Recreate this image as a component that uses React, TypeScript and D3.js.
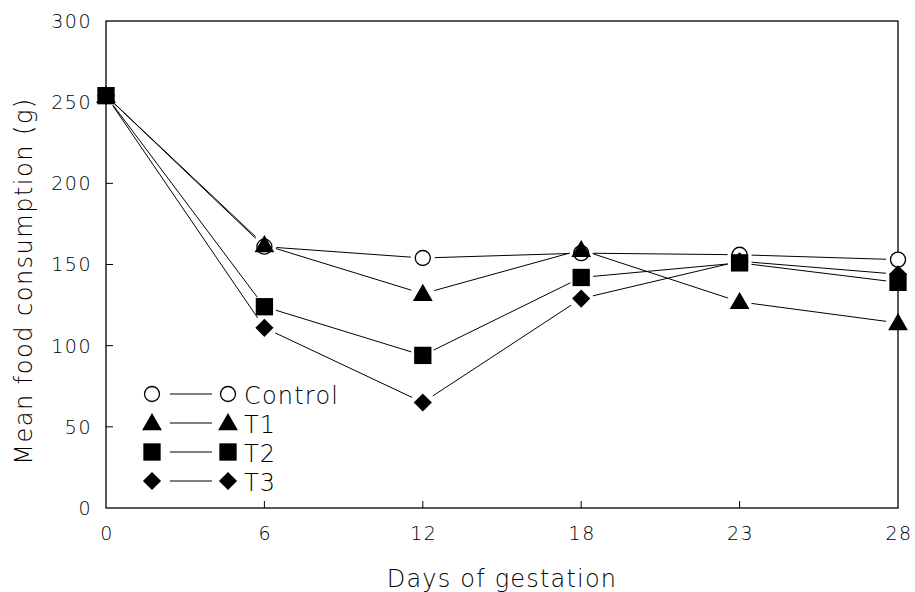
import { scaleLinear, scalePoint, symbol, symbolSquare, symbolTriangle } from "d3";

const days = ["0", "6", "12", "18", "23", "28"];
const yTicks = [0, 50, 100, 150, 200, 250, 300];

const seriesNames = ["Control", "T1", "T2", "T3"];
const controlValues = [254, 161, 154, 157, 156, 153];
const t1Values = [254, 162, 132, 159, 127, 114];
const t2Values = [254, 124, 94, 142, 151, 139];
const t3Values = [254, 111, 65, 129, 152, 144];

const width = 915;
const height = 592;
const margin = { top: 21, right: 17, bottom: 84, left: 106 };
const innerWidth = width - margin.left - margin.right;
const innerHeight = height - margin.top - margin.bottom;

const font = "'DejaVu Sans', sans-serif";
const gap = 12;

const xScale = scalePoint().domain(days).range([0, innerWidth]);
const yScale = scaleLinear().domain([0, 300]).range([innerHeight, 0]);

const series = [
  { name: seriesNames[0], values: controlValues, shape: "circle" },
  { name: seriesNames[1], values: t1Values, shape: "triangle" },
  { name: seriesNames[2], values: t2Values, shape: "square" },
  { name: seriesNames[3], values: t3Values, shape: "diamond" },
];

// draw order so the square sits on top at day 0
const drawOrder = [0, 1, 3, 2];

const Marker = ({ shape, x, y }) => {
  if (shape === "circle") {
    return <circle cx={x} cy={y} r={7.5} fill="white" stroke="black" strokeWidth={1.3} />;
  }
  if (shape === "diamond") {
    // square turned 45 degrees, equal width and height
    return (
      <path
        d={symbol().type(symbolSquare).size(165)()}
        transform={`translate(${x},${y}) rotate(45)`}
        fill="black"
      />
    );
  }
  const type = shape === "triangle" ? symbolTriangle : symbolSquare;
  const size = shape === "triangle" ? 170 : 300;
  return (
    <path
      d={symbol().type(type).size(size)()}
      transform={`translate(${x},${y + (shape === "triangle" ? 1.5 : 0)})`}
      fill="black"
    />
  );
};

const segment = (x1, y1, x2, y2) => {
  const dx = x2 - x1;
  const dy = y2 - y1;
  const len = Math.sqrt(dx * dx + dy * dy);
  const ux = dx / len;
  const uy = dy / len;
  return {
    x1: x1 + ux * gap,
    y1: y1 + uy * gap,
    x2: x2 - ux * gap,
    y2: y2 - uy * gap,
  };
};

const legendX = 46;
const legendY = 373;
const legendStep = 29;

export default function App() {
  return (
    <svg
      width={width}
      height={height}
      style={{ position: "absolute", left: 0, top: 0, background: "white" }}
    >
      <g transform={`translate(${margin.left},${margin.top})`}>
        <rect
          width={innerWidth}
          height={innerHeight}
          fill="none"
          stroke="black"
          strokeWidth={1.3}
        />
        {days.slice(1, -1).map((d) => (
          <line
            key={d}
            x1={xScale(d)}
            x2={xScale(d)}
            y1={innerHeight}
            y2={innerHeight - 7}
            stroke="black"
          />
        ))}
        {yTicks.slice(1, -1).map((t) => (
          <line key={t} x1={0} x2={7} y1={yScale(t)} y2={yScale(t)} stroke="black" />
        ))}
        {yTicks.map((t) => (
          <text
            key={t}
            x={-14}
            y={yScale(t)}
            dy="0.36em"
            textAnchor="end"
            fontFamily={font}
            fontWeight={200}
            fontSize={19}
            letterSpacing={1.5}
          >
            {t}
          </text>
        ))}
        {days.map((d) => (
          <text
            key={d}
            x={xScale(d) + 1}
            y={innerHeight + 32}
            textAnchor="middle"
            fontFamily={font}
            fontWeight={200}
            fontSize={19}
            letterSpacing={1.5}
          >
            {d}
          </text>
        ))}

        {series.map((s) => (
          <g key={s.name}>
            {s.values.slice(1).map((v, i) => {
              const seg = segment(
                xScale(days[i]),
                yScale(s.values[i]),
                xScale(days[i + 1]),
                yScale(v)
              );
              return <line key={i} {...seg} stroke="black" strokeWidth={1} />;
            })}
          </g>
        ))}
        {drawOrder.map((k) => {
          const s = series[k];
          return (
            <g key={s.name}>
              {s.values.map((v, i) => (
                <Marker key={i} shape={s.shape} x={xScale(days[i])} y={yScale(v)} />
              ))}
            </g>
          );
        })}

        <g transform={`translate(${legendX},${legendY})`}>
          {series.map((s, i) => (
            <g key={s.name} transform={`translate(0,${i * legendStep})`}>
              <Marker shape={s.shape} x={0} y={0} />
              <line x1={18} x2={60} y1={0} y2={0} stroke="black" strokeWidth={1} />
              <Marker shape={s.shape} x={76} y={0} />
              <text
                x={92}
                y={10}
                fontFamily={font}
                fontWeight={200}
                fontSize={24}
                letterSpacing={1.2}
              >
                {s.name}
              </text>
            </g>
          ))}
        </g>
      </g>

      <text
        x={margin.left + innerWidth / 2}
        y={587}
        textAnchor="middle"
        fontFamily={font}
        fontWeight={200}
        fontSize={24}
        letterSpacing={1.2}
      >
        Days of gestation
      </text>
      <text
        transform={`translate(32,281) rotate(-90)`}
        textAnchor="middle"
        fontFamily={font}
        fontWeight={200}
        fontSize={24}
        letterSpacing={1.5}
      >
        Mean food consumption (g)
      </text>
    </svg>
  );
}
